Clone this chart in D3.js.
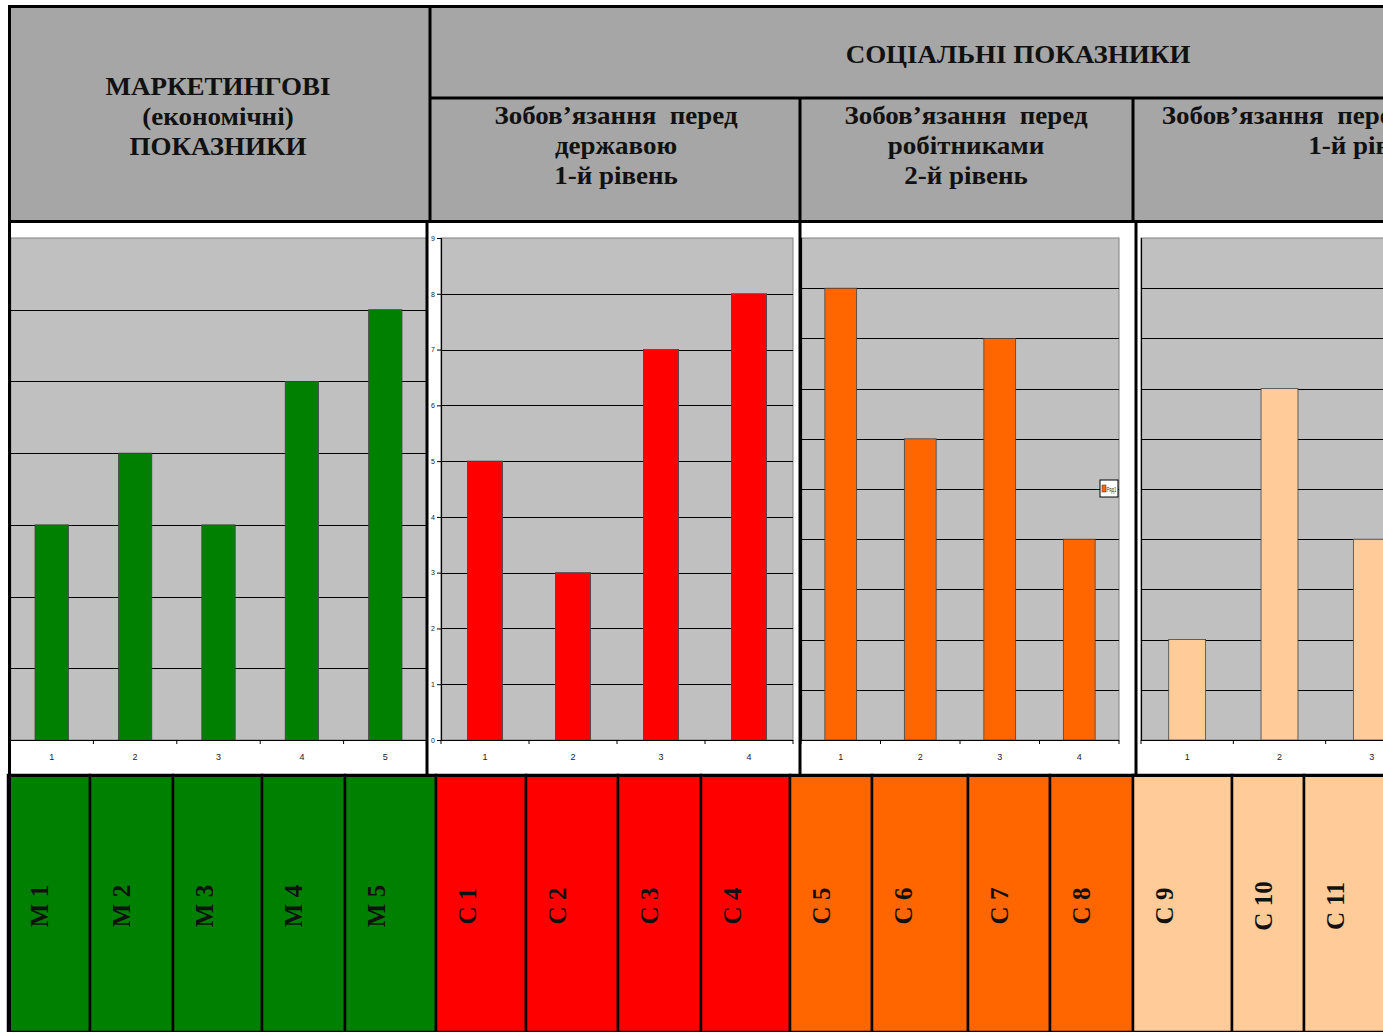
<!DOCTYPE html>
<html>
<head>
<meta charset="utf-8">
<script src="https://cdn.jsdelivr.net/npm/d3@7"></script>
<style>
  body { margin: 0; background: #fff; overflow: hidden; }
  svg { display: block; }
  .ttl { font-family: "Liberation Serif", "Times New Roman", serif; font-weight: bold; fill: #111; }
  .tick text { font-family: "Liberation Sans Narrow", "Arial Narrow", "Liberation Sans", sans-serif; }
</style>
</head>
<body>
<svg id="chart"></svg>
<script>
// chart data
var mCats = ["1", "2", "3", "4", "5"];
var mValues = [3, 4, 3, 5, 6];
var sDerzhCats = ["1", "2", "3", "4"];
var sDerzhValues = [5, 3, 7, 8];
var sRobCats = ["1", "2", "3", "4"];
var sRobValues = [9, 6, 8, 4];
var sSuspCats = ["1", "2", "3"];
var sSuspValues = [2, 7, 4];

// table texts
var leftHeader = ["МАРКЕТИНГОВІ", "(економічні)", "ПОКАЗНИКИ"];
var socHeader = "СОЦІАЛЬНІ ПОКАЗНИКИ";
var subHeaders = [
    ["Зобов’язання  перед", "державою", "1-й рівень"],
    ["Зобов’язання  перед", "робітниками", "2-й рівень"],
    ["Зобов’язання  перед  суспільством", "1-й рівень"]
];
var mLabels = ["М 1", "М 2", "М 3", "М 4", "М 5"];
var c1Labels = ["С 1", "С 2", "С 3", "С 4"];
var c2Labels = ["С 5", "С 6", "С 7", "С 8"];
var c3Labels = ["С 9", "С 10", "С 11"];
var legendLabel = "Ряд1";

var width = 1383, height = 1032;
var svg = d3.select("#chart").attr("width", width).attr("height", height);

var headGray = "#a6a6a6";

//header background
svg.append("rect").attr("x", 8).attr("y", 5).attr("width", width).attr("height", 216).attr("fill", headGray);

//header text, slightly widened like the original Word table
function headText(cx, y0, lines) {
    var g = svg.append("g").attr("transform", "translate(" + cx + ",0) scale(1.08,1)");
    g.selectAll("text").data(lines).enter().append("text")
        .attr("class", "ttl").attr("x", 0).attr("y", function (d, i) { return y0 + i * 30; })
        .attr("text-anchor", "middle").style("font-size", "25px")
        .attr("xml:space", "preserve").text(function (d) { return d; });
}
headText(218, 95, leftHeader);
headText(1018, 63, [socHeader]);
var subCenters = [616, 966, 1370];
subHeaders.forEach(function (lines, k) { headText(subCenters[k], 124, lines); });

//bar chart in one table cell
function barChart(opt) {
    var g = svg.append("g");
    var n = opt.cats.length;
    var x = d3.scaleBand().domain(opt.cats).range([opt.x0, opt.x1]).paddingInner(0.6).paddingOuter(0.3);
    var xEdge = d3.scaleLinear().domain([0, n]).range([opt.x0, opt.x1]);
    var y = d3.scaleLinear().domain([0, opt.max]).range([opt.bottom, opt.top]);

    g.append("rect").attr("x", opt.x0).attr("y", opt.top)
        .attr("width", opt.x1 - opt.x0).attr("height", opt.bottom - opt.top)
        .attr("fill", "#c0c0c0").attr("stroke", "#808080").attr("stroke-width", 1);

    //grid
    g.append("g").selectAll("line").data(d3.range(1, opt.max)).enter().append("line")
        .attr("x1", opt.x0).attr("x2", opt.x1)
        .attr("y1", function (d) { return Math.round(y(d)) + 0.5; })
        .attr("y2", function (d) { return Math.round(y(d)) + 0.5; })
        .attr("stroke", "#000").attr("stroke-width", 1);

    //bars
    g.append("g").selectAll("rect").data(opt.values).enter().append("rect")
        .attr("x", function (d, i) { return x(opt.cats[i]); })
        .attr("y", function (d) { return y(d); })
        .attr("width", x.bandwidth())
        .attr("height", function (d) { return y(0) - y(d); })
        .attr("fill", opt.color).attr("stroke", "#444").attr("stroke-width", 0.8);

    //x axis
    g.append("line").attr("x1", opt.x0).attr("x2", opt.x1).attr("y1", opt.bottom + 0.5).attr("y2", opt.bottom + 0.5)
        .attr("stroke", "#000").attr("stroke-width", 1.2);
    g.append("g").selectAll("line").data(d3.range(0, n + 1)).enter().append("line")
        .attr("x1", function (d) { return xEdge(d); }).attr("x2", function (d) { return xEdge(d); })
        .attr("y1", opt.bottom).attr("y2", opt.bottom + 4)
        .attr("stroke", "#000").attr("stroke-width", 1);
    var xa = g.append("g").attr("transform", "translate(0," + opt.bottom + ")")
        .call(d3.axisBottom(x).tickSize(0).tickPadding(14));
    xa.select(".domain").remove();
    xa.selectAll("text").style("font-size", "9px").attr("fill", "#222");

    //y axis
    g.append("line").attr("x1", opt.x0 + 0.5).attr("x2", opt.x0 + 0.5).attr("y1", opt.top).attr("y2", opt.bottom)
        .attr("stroke", "#000").attr("stroke-width", 1.2);
    if (opt.showY) {
        var ya = g.append("g").attr("transform", "translate(" + opt.x0 + ",0)")
            .call(d3.axisLeft(y).ticks(opt.max).tickSize(4).tickPadding(2));
        ya.select(".domain").remove();
        ya.selectAll("line").attr("stroke", "#000");
        ya.selectAll("text").style("font-size", "7px").attr("fill", "#222");
    }
    return g;
}

barChart({ x0: 10, x1: 427, top: 238, bottom: 740, max: 7, cats: mCats, values: mValues, color: "#008000" });
barChart({ x0: 441, x1: 793, top: 238, bottom: 740, max: 9, cats: sDerzhCats, values: sDerzhValues, color: "#ff0000", showY: true });
barChart({ x0: 801, x1: 1119, top: 238, bottom: 740, max: 10, cats: sRobCats, values: sRobValues, color: "#ff6600" });
barChart({ x0: 1141, x1: 1418, top: 238, bottom: 740, max: 10, cats: sSuspCats, values: sSuspValues, color: "#ffcc99" });

//legend in chart 3
var lg = svg.append("g").attr("transform", "translate(1100,480)");
lg.append("rect").attr("width", 18).attr("height", 17).attr("fill", "#fff").attr("stroke", "#000").attr("stroke-width", 1);
lg.append("rect").attr("x", 2).attr("y", 5).attr("width", 4).attr("height", 7).attr("fill", "#ff6600").attr("stroke", "#333").attr("stroke-width", 0.5);
lg.append("text").attr("x", 6.5).attr("y", 11.5).attr("textLength", 10).attr("lengthAdjust", "spacingAndGlyphs")
    .style("font-family", "Liberation Sans Narrow, Arial Narrow, sans-serif")
    .style("font-size", "7px").attr("fill", "#333").text(legendLabel);

//bottom row of coloured cells
var bottomGroups = [
    { labels: mLabels, edges: [8, 90, 173, 262, 345, 436], color: "#008000" },
    { labels: c1Labels, edges: [436, 526, 618, 701, 790], color: "#ff0000" },
    { labels: c2Labels, edges: [790, 872, 968, 1050, 1133], color: "#ff6600" },
    { labels: c3Labels, edges: [1133, 1232, 1304, 1400], color: "#ffcc99" }
];
bottomGroups.forEach(function (grp) {
    var cells = svg.append("g").selectAll("g").data(grp.labels).enter().append("g");
    cells.append("rect")
        .attr("x", function (d, i) { return grp.edges[i]; })
        .attr("y", 775)
        .attr("width", function (d, i) { return grp.edges[i + 1] - grp.edges[i]; })
        .attr("height", height - 775)
        .attr("fill", grp.color).attr("stroke", "#000").attr("stroke-width", 2.5);
    cells.append("text").attr("class", "ttl")
        .attr("transform", function (d, i) { return "translate(" + (grp.edges[i] + 40) + ",906) rotate(-90)"; })
        .attr("text-anchor", "middle").style("font-size", "25px").text(function (d) { return d; });
});

//table borders
var borders = [
    [8, 6.5, width, 6.5], [9.5, 5, 9.5, height],
    [8, 221.5, width, 221.5], [430, 98, width, 98],
    [430, 5, 430, 221], [800, 98, 800, 221], [1133, 98, 1133, 221],
    [427, 221, 427, 775], [800, 221, 800, 775], [1136, 221, 1136, 775],
    [8, 775.5, width, 775.5]
];
svg.append("g").selectAll("line").data(borders).enter().append("line")
    .attr("x1", function (d) { return d[0]; }).attr("y1", function (d) { return d[1]; })
    .attr("x2", function (d) { return d[2]; }).attr("y2", function (d) { return d[3]; })
    .attr("stroke", "#000").attr("stroke-width", 3);
</script>
</body>
</html>
